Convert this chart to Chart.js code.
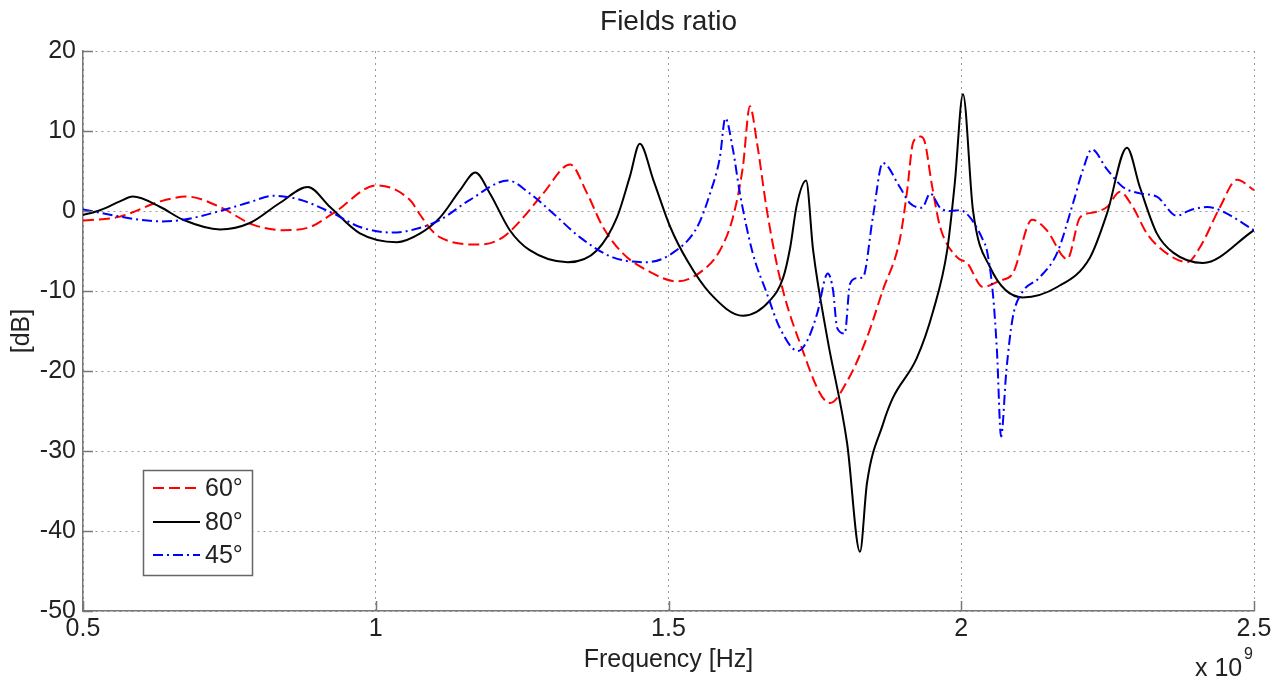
<!DOCTYPE html>
<html>
<head>
<meta charset="utf-8">
<script src="https://cdn.jsdelivr.net/npm/chart.js@4.4.0/dist/chart.umd.min.js"></script>
<style>
html,body{margin:0;padding:0;background:#fff;}
#wrap{width:1283px;height:684px;position:relative;}
</style>
</head>
<body>
<div id="wrap"><canvas id="c" width="1283" height="684"></canvas></div>
<script>
// Frequencies in units of 1e9 Hz, values in dB
const freq60 = [0.5,0.563,0.632,0.678,0.734,0.790,0.842,0.888,0.927,1.002,1.058,1.076,1.093,1.110,1.178,1.217,1.252,1.286,1.332,1.361,1.388,1.422,1.463,1.515,1.559,1.588,1.610,1.627,1.639,1.651,1.668,1.690,1.722,1.776,1.805,1.839,1.866,1.895,1.907,1.918,1.930,1.937,1.950,1.964,1.993,2.010,2.037,2.066,2.088,2.121,2.146,2.181,2.203,2.225,2.249,2.271,2.293,2.317,2.351,2.386,2.408,2.442,2.471,2.5];
const db60   = [-1.2,-0.7,1.2,1.8,0.5,-1.7,-2.4,-2.0,-0.3,3.2,1.4,-0.5,-2.2,-3.3,-4.2,-3.3,-0.8,2.2,5.8,2.2,-2.0,-5.3,-7.4,-8.8,-7.4,-4.9,-0.8,5.5,13.1,8.6,0.1,-8.3,-16.0,-24.0,-21.3,-15.8,-9.9,-3.6,2.2,8.6,9.3,8.8,3.2,-2.0,-5.8,-6.5,-9.5,-8.7,-7.8,-1.1,-2.4,-6.0,-0.8,-0.2,0.5,2.4,0.5,-2.8,-5.3,-6.4,-4.5,0.5,3.9,2.6];

const freq80 = [0.5,0.529,0.563,0.585,0.632,0.671,0.734,0.785,0.836,0.884,0.922,0.973,1.036,1.076,1.110,1.144,1.170,1.195,1.229,1.263,1.328,1.378,1.412,1.434,1.451,1.474,1.503,1.532,1.571,1.627,1.673,1.696,1.708,1.719,1.735,1.747,1.771,1.805,1.827,1.839,1.866,1.883,1.924,1.952,1.976,1.989,2.003,2.020,2.049,2.105,2.164,2.220,2.249,2.283,2.305,2.334,2.362,2.413,2.5];
const db80   = [-0.5,0.1,1.2,1.8,0.5,-1.1,-2.3,-1.5,1.0,3.0,0.5,-2.8,-3.9,-2.8,-0.8,2.6,4.8,2.2,-2.4,-4.9,-6.4,-4.9,-0.8,4.3,8.4,3.9,-2.0,-6.2,-10.3,-13.1,-11.2,-8.3,-4.5,0.7,3.8,-4.9,-15.8,-29.0,-42.6,-34.0,-26.7,-23.4,-18.4,-12.5,-4.9,3.5,14.6,0.1,-7.0,-10.8,-9.5,-5.8,-0.3,7.9,3.0,-2.8,-5.2,-6.5,-2.4];

const freq45 = [0.5,0.563,0.597,0.632,0.671,0.734,0.785,0.825,0.871,0.927,0.973,1.029,1.076,1.110,1.161,1.226,1.263,1.303,1.349,1.405,1.463,1.508,1.549,1.571,1.588,1.597,1.610,1.622,1.644,1.668,1.690,1.721,1.737,1.754,1.772,1.781,1.788,1.801,1.810,1.822,1.832,1.849,1.866,1.895,1.912,1.933,1.947,1.964,1.981,1.998,2.015,2.037,2.044,2.054,2.061,2.068,2.077,2.088,2.103,2.134,2.164,2.191,2.208,2.223,2.249,2.276,2.305,2.334,2.368,2.391,2.420,2.442,2.5];
const db45   = [0.2,-0.7,-1.1,-1.3,-1.1,0.0,1.1,1.9,1.4,-0.3,-2.0,-2.7,-2.1,-1.1,1.4,3.8,2.2,-0.3,-3.3,-5.8,-6.4,-5.2,-2.0,2.2,6.8,11.6,7.7,2.2,-5.3,-10.3,-14.6,-17.5,-16.2,-12.8,-7.8,-9.9,-14.6,-15.3,-9.1,-8.4,-8.3,-0.8,6.0,3.0,1.0,0.4,2.2,0.4,0.0,0.1,-0.8,-3.6,-5.0,-10.3,-17.5,-28.2,-20.0,-13.3,-10.3,-8.3,-5.2,1.0,5.2,7.7,5.2,3.0,2.2,1.8,-0.6,0.1,0.5,0.1,-2.4];

const seriesLabels = ['60°','80°','45°'];
const chartTitle = 'Fields ratio';
const xTickValues = [0.5,1,1.5,2,2.5];
const xTickLabels = ['0.5','1','1.5','2','2.5'];
const yTickValues = [-50,-40,-30,-20,-10,0,10,20];

function pts(xs, ys){ return xs.map((x,i)=>({x:x, y:ys[i]})); }

const FONT = "'Liberation Sans', Arial, Helvetica, sans-serif";
const AXIS_COLOR = '#777777';
const TEXT_COLOR = '#222222';

const customPlugin = {
  id: 'matlabExtras',
  afterDraw(chart){
    const ctx = chart.ctx;
    const xs = chart.scales.x, ys = chart.scales.y;
    const a = chart.chartArea;
    ctx.save();
    // title centred over the plot area
    ctx.fillStyle = TEXT_COLOR;
    ctx.font = '28px ' + FONT;
    ctx.textAlign = 'center';
    ctx.textBaseline = 'middle';
    ctx.fillText(chartTitle, (a.left + a.right) / 2, 22);

    // inward ticks
    ctx.strokeStyle = AXIS_COLOR;
    ctx.lineWidth = 1.5;
    ctx.setLineDash([]);
    ctx.beginPath();
    yTickValues.forEach(v=>{
      const py = Math.round(ys.getPixelForValue(v))+0.5;
      ctx.moveTo(a.left, py); ctx.lineTo(a.left+10, py);
    });
    xTickValues.forEach(v=>{
      const px = Math.round(xs.getPixelForValue(v))+0.5;
      ctx.moveTo(px, a.bottom); ctx.lineTo(px, a.bottom-10);
    });
    ctx.stroke();

    // x 10^9 multiplier
    ctx.fillStyle = TEXT_COLOR;
    ctx.textBaseline = 'middle';
    ctx.textAlign = 'left';
    ctx.font = '25px ' + FONT;
    ctx.fillText('x 10', 1195, 669);
    ctx.font = '16px ' + FONT;
    ctx.fillText('9', 1244, 655);

    // legend box
    const bx = 143, by = 470, bw = 109, bh = 105;
    ctx.fillStyle = '#ffffff';
    ctx.fillRect(bx, by, bw, bh);
    ctx.strokeStyle = '#666666';
    ctx.lineWidth = 1.5;
    ctx.strokeRect(bx+0.5, by+0.5, bw, bh);
    const rowsY = [488, 522, 555];
    chart.data.datasets.forEach((ds, i)=>{
      const y = rowsY[i];
      ctx.strokeStyle = ds.borderColor;
      ctx.lineWidth = ds.borderWidth;
      ctx.setLineDash(ds.borderDash || []);
      ctx.beginPath();
      ctx.moveTo(153, y); ctx.lineTo(200, y);
      ctx.stroke();
      ctx.setLineDash([]);
      ctx.fillStyle = TEXT_COLOR;
      ctx.font = '25px ' + FONT;
      ctx.textAlign = 'left';
      ctx.textBaseline = 'middle';
      ctx.fillText(ds.label, 205, y+1);
    });
    ctx.restore();
  }
};

new Chart(document.getElementById('c'), {
  type: 'line',
  data: {
    datasets: [
      { label: seriesLabels[0], data: pts(freq60, db60), borderColor: '#ff0000', borderWidth: 2, borderDash: [11,5], pointRadius: 0, cubicInterpolationMode: 'monotone', fill: false, order: 2 },
      { label: seriesLabels[1], data: pts(freq80, db80), borderColor: '#000000', borderWidth: 2, borderDash: [], pointRadius: 0, cubicInterpolationMode: 'monotone', fill: false, order: 1 },
      { label: seriesLabels[2], data: pts(freq45, db45), borderColor: '#0000ff', borderWidth: 2, borderDash: [10,4,2,4], pointRadius: 0, cubicInterpolationMode: 'monotone', fill: false, order: 0 }
    ]
  },
  options: {
    responsive: false,
    animation: false,
    devicePixelRatio: 1,
    layout: { padding: { top: 51, right: 29, bottom: 0, left: 0 } },
    plugins: {
      legend: { display: false },
      tooltip: { enabled: false },
      title: { display: false }
    },
    scales: {
      x: {
        type: 'linear',
        min: 0.5, max: 2.5,
        afterFit(scale){ scale.height = 73; },
        afterBuildTicks(scale){ scale.ticks = xTickValues.map(v=>({value:v})); },
        ticks: {
          color: TEXT_COLOR,
          font: { family: FONT, size: 25 },
          padding: 3,
          maxRotation: 0,
          autoSkip: false,
          callback(value){ const i = xTickValues.indexOf(value); return i >= 0 ? xTickLabels[i] : ''; }
        },
        grid: { color: '#9a9a9a', lineWidth: 1, drawTicks: false },
        border: { display: true, color: AXIS_COLOR, width: 1.5, dash: [2,4] },
        title: {
          display: true, text: 'Frequency [Hz]', color: TEXT_COLOR,
          font: { family: FONT, size: 25, lineHeight: 1.2 },
          padding: { top: 0, bottom: 9 }
        }
      },
      y: {
        type: 'linear',
        min: -50, max: 20,
        afterFit(scale){ scale.width = 83; },
        afterBuildTicks(scale){ scale.ticks = yTickValues.map(v=>({value:v})); },
        ticks: {
          color: TEXT_COLOR,
          font: { family: FONT, size: 25 },
          padding: 7,
          autoSkip: false
        },
        grid: { color: '#9a9a9a', lineWidth: 1, drawTicks: false },
        border: { display: true, color: AXIS_COLOR, width: 1.5, dash: [2,4] },
        title: {
          display: true, text: '[dB]', color: TEXT_COLOR,
          font: { family: FONT, size: 25, lineHeight: 1.2 },
          padding: { top: 7, bottom: 0 }
        }
      }
    }
  },
  plugins: [customPlugin]
});
</script>
</body>
</html>
